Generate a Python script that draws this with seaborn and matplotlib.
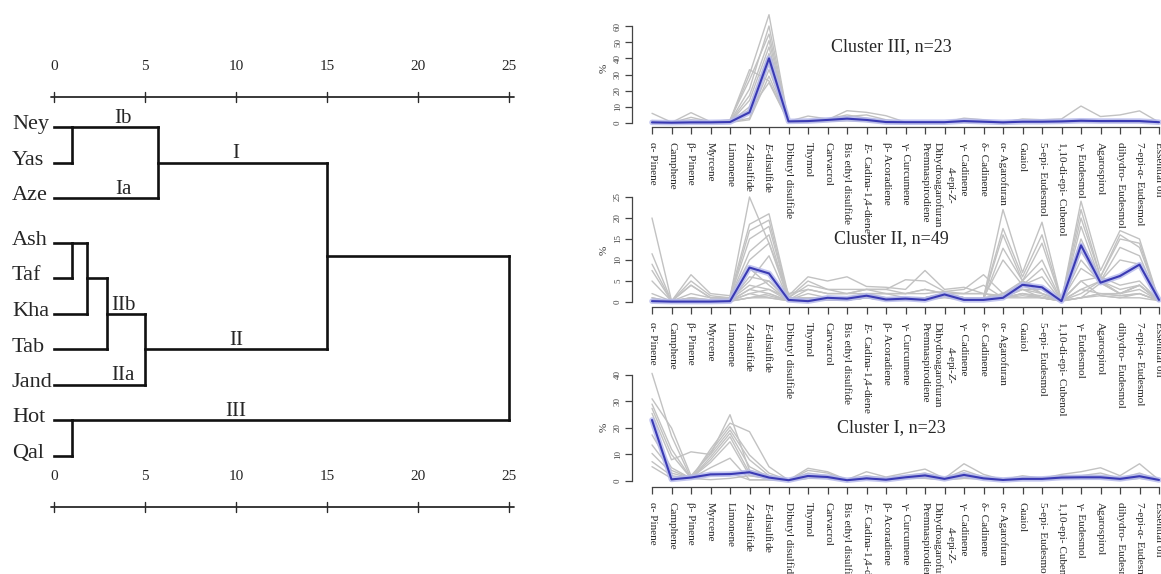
import matplotlib
matplotlib.use("Agg")
import matplotlib.pyplot as plt
import pandas as pd
import seaborn as sns

sns.set_theme(style="white")
plt.rcParams["font.family"] = ["Liberation Serif", "DejaVu Serif"]
plt.rcParams["mathtext.fontset"] = "custom"
plt.rcParams["mathtext.rm"] = "Liberation Serif"
plt.rcParams["mathtext.it"] = "Liberation Serif:italic"

# ---------------- dendrogram data ----------------
leaves = ["Ney", "Yas", "Aze", "Ash", "Taf", "Kha", "Tab", "Jand", "Hot", "Qal"]
# pairs of node ids (leaves 0..9, merged nodes 10..) and their rescaled distances
merge_pairs = [(0, 1), (3, 4), (8, 9), (11, 5), (13, 6), (10, 2), (14, 7), (15, 16), (17, 12)]
merge_heights = [1.0, 1.0, 1.0, 1.8, 2.9, 5.7, 5.0, 15.0, 25.0]
scale_ticks = [0, 5, 10, 15, 20, 25]
branch_names = ["Ib", "Ia", "I", "IIb", "IIa", "II", "III"]
branch_nodes = [10, 2, 15, 14, 7, 16, 12]

# ---------------- compound profiles ----------------
compounds = [
    "α- Pinene", "Camphene", "β- Pinene", "Myrcene", "Limonene",
    r"$\it{Z}$-disulfide", r"$\it{E}$-disulfide", "Dibutyl disulfide", "Thymol", "Carvacrol",
    "Bis ethyl disulfide", r"$\it{E}$- Cadina-1,4-diene", "β- Acoradiene", "γ- Curcumene",
    "Premnaspirodiene", "4-epi-$\\it{Z}$-\nDihydroagarofuran", "γ- Cadinene", "δ- Cadinene",
    "α- Agarofuran", "Guaiol", "5-epi- Eudesmol", "1,10-di-epi- Cubenol", "γ- Eudesmol",
    "Agarospirol", "dihydro- Eudesmol", "7-epi-α- Eudesmol", "Essential oil",
]
compounds_c1 = compounds[:21] + ["1,10-epi- Cubenol"] + compounds[22:]

c3_mean = [0.4, 0.2, 0.4, 0.4, 0.6, 6.6, 40, 1.0, 1.2, 1.9, 2.7, 1.9, 0.6, 0.5, 0.5, 0.5, 1.2, 0.8, 0.4, 0.8, 0.8, 1.0, 1.4, 1.2, 1.2, 1.2, 0.5]
c3_s01 = [6.0, 0.5, 2.0, 0.8, 1.5, 33, 26, 1.0, 4.3, 2.5, 5.0, 3.0, 1.0, 0.5, 0.5, 0.5, 1.5, 1.0, 0.5, 1.0, 1.0, 1.5, 2.0, 1.5, 2.0, 1.5, 0.5]
c3_s02 = [1.5, 0.3, 6.4, 0.8, 1.0, 30, 67, 1.0, 2.0, 2.0, 7.6, 6.6, 4.5, 0.5, 0.5, 0.5, 1.0, 1.0, 0.3, 0.8, 0.8, 1.0, 1.5, 1.2, 1.5, 1.2, 0.5]
c3_s03 = [0.5, 0.2, 3.5, 0.8, 2.0, 26.6, 55, 1.0, 1.5, 2.5, 4.0, 5.0, 2.0, 0.5, 0.5, 0.5, 3.0, 2.0, 0.5, 2.5, 2.0, 2.5, 10.5, 4.0, 5.0, 7.5, 0.5]
c3_s04 = [0.3, 0.2, 0.3, 0.5, 0.8, 21, 60, 1.0, 1.0, 2.0, 3.0, 2.0, 0.5, 0.5, 0.5, 0.5, 1.5, 1.0, 0.5, 1.0, 1.0, 1.0, 1.5, 1.5, 1.5, 1.5, 0.5]
c3_s05 = [0.5, 0.2, 0.5, 0.5, 0.6, 17, 51, 1.0, 1.2, 2.0, 2.5, 1.5, 0.5, 0.5, 0.5, 0.5, 1.0, 0.8, 0.5, 0.8, 1.0, 1.0, 1.0, 1.0, 1.2, 1.0, 0.5]
c3_s06 = [0.3, 0.2, 0.3, 0.5, 0.5, 14, 47, 1.0, 1.0, 1.5, 2.0, 1.5, 0.5, 0.5, 0.5, 0.5, 1.0, 0.8, 0.3, 0.8, 0.8, 1.0, 1.2, 1.0, 1.0, 1.0, 0.5]
c3_s07 = [0.3, 0.2, 0.3, 0.4, 0.5, 10, 43, 0.8, 1.0, 1.5, 3.0, 2.0, 0.4, 0.5, 0.5, 0.5, 1.2, 0.8, 0.3, 0.8, 0.8, 1.2, 1.5, 1.2, 1.2, 1.2, 0.5]
c3_s08 = [0.3, 0.2, 0.3, 0.4, 0.5, 6, 37, 0.8, 0.8, 1.5, 2.0, 1.5, 0.4, 0.4, 0.4, 0.4, 1.0, 0.6, 0.3, 0.6, 0.6, 0.8, 1.0, 1.0, 1.0, 1.0, 0.5]
c3_s09 = [0.2, 0.2, 0.2, 0.4, 0.4, 3, 33, 0.8, 0.8, 1.2, 1.5, 1.2, 0.3, 0.4, 0.4, 0.4, 0.8, 0.6, 0.3, 0.6, 0.6, 0.8, 1.0, 0.8, 0.8, 0.8, 0.4]
c3_s10 = [0.2, 0.2, 0.2, 0.3, 0.4, 2, 29, 0.8, 0.8, 1.2, 2.5, 1.5, 0.3, 0.4, 0.4, 0.4, 0.8, 0.6, 0.3, 0.6, 0.6, 0.8, 1.2, 1.0, 1.0, 1.0, 0.4]
c3_s11 = [0.2, 0.2, 0.2, 0.3, 0.4, 8, 25, 0.8, 0.8, 1.0, 1.5, 1.0, 0.3, 0.3, 0.3, 0.3, 0.6, 0.5, 0.3, 0.5, 0.5, 0.8, 1.0, 0.8, 0.8, 0.8, 0.4]

c2_mean = [0.2, 0.1, 0.1, 0.1, 0.2, 8.2, 6.8, 0.5, 0.2, 1.0, 0.8, 1.5, 0.6, 0.8, 0.5, 1.8, 0.5, 0.5, 1.0, 4.1, 3.5, 0.2, 13.5, 4.6, 6.2, 8.9, 0.5]
c2_s01 = [20, 0.3, 1.0, 0.5, 0.5, 4, 3, 1.0, 1.0, 1.0, 1.0, 2.0, 1.0, 1.0, 1.0, 2.0, 1.0, 1.0, 2.0, 5.0, 3.0, 0.3, 8, 5.0, 6, 9, 0.3]
c2_s02 = [11.5, 0.2, 4.0, 1.0, 1.0, 25, 14, 2.0, 3.0, 2.0, 2.0, 3.0, 2.0, 2.0, 3.0, 2.0, 2.0, 2.0, 1.0, 5.0, 2.0, 0.5, 5, 6.0, 4, 5, 0.3]
c2_s03 = [9, 0.2, 6.5, 2.0, 1.5, 18.5, 21, 1.5, 6.0, 5.0, 6.0, 3.7, 3.5, 3.0, 7.5, 3.0, 3.5, 2.0, 1.5, 4.0, 2.0, 0.3, 3, 5.0, 3, 4, 0.3]
c2_s04 = [7.5, 0.2, 5.0, 1.5, 1.0, 17, 19.5, 1.0, 5.0, 3.0, 3.0, 3.0, 3.0, 5.3, 5.0, 2.5, 3.0, 6.5, 2.0, 3.0, 2.0, 0.3, 2, 5.0, 2, 3, 0.3]
c2_s05 = [5, 0.2, 4.0, 1.0, 1.0, 15, 18, 1.0, 4.0, 3.0, 2.0, 2.0, 2.0, 2.0, 3.0, 2.0, 2.0, 4.0, 1.0, 2.0, 1.0, 0.3, 1, 2.0, 1.5, 2, 0.3]
c2_s06 = [2, 0.2, 2.0, 1.0, 1.0, 12, 16, 0.5, 3.0, 2.0, 2.0, 3.0, 3.0, 2.0, 2.0, 2.5, 2.0, 2.0, 1.0, 3.0, 1.0, 0.3, 1, 4.5, 2, 4, 0.3]
c2_s07 = [1, 0.1, 1.0, 0.5, 1.0, 10, 14, 0.5, 2.0, 1.0, 1.0, 2.0, 2.0, 1.0, 1.0, 2.0, 1.0, 1.0, 1.0, 2.0, 1.0, 0.3, 1, 2.0, 1.5, 2, 0.3]
c2_s08 = [0.5, 0.1, 0.5, 0.5, 0.5, 5, 11, 0.5, 1.0, 1.0, 1.0, 1.5, 1.0, 1.0, 1.0, 2.0, 1.0, 1.0, 1.0, 1.5, 1.0, 0.2, 3, 2.0, 2, 4, 0.3]
c2_s09 = [0.5, 0.1, 0.5, 0.2, 0.3, 3, 5, 0.5, 1.0, 0.5, 0.5, 1.5, 1.0, 1.0, 1.0, 2.0, 1.0, 1.0, 22, 7.0, 19, 0.3, 24, 7.5, 17, 15, 0.3]
c2_s10 = [1, 0.1, 1.0, 0.2, 0.3, 2, 3, 0.3, 1.0, 0.5, 0.5, 1.0, 1.0, 1.0, 1.0, 2.0, 1.0, 1.0, 17.5, 6.0, 16, 0.3, 22, 6.0, 15, 14, 0.3]
c2_s11 = [0.5, 0.1, 0.5, 0.2, 0.2, 1, 2, 0.3, 0.5, 0.5, 0.5, 1.0, 0.5, 1.0, 1.0, 2.0, 1.0, 1.0, 16, 5.0, 14, 0.2, 20, 6.0, 16, 13, 0.3]
c2_s12 = [0.2, 0.1, 0.2, 0.2, 0.2, 1, 1.5, 0.3, 0.5, 0.5, 0.5, 1.0, 0.5, 0.5, 0.5, 1.5, 0.5, 0.5, 12.8, 5.0, 10, 0.2, 18, 5.0, 13, 11, 0.3]
c2_s13 = [0.3, 0.1, 0.3, 0.2, 0.2, 8, 4, 0.3, 0.3, 0.5, 0.5, 1.0, 0.5, 0.5, 0.5, 1.5, 0.5, 1.0, 10, 4.0, 8, 0.2, 15, 5.0, 10, 9, 0.3]
c2_s14 = [0.2, 0.1, 0.2, 0.2, 0.2, 6, 5, 0.3, 0.3, 0.5, 0.5, 1.0, 0.5, 0.5, 0.5, 1.5, 0.5, 0.5, 2, 4.0, 6, 0.2, 12, 5.0, 6, 9, 0.3]
c2_s15 = [0.2, 0.1, 0.2, 0.2, 0.2, 3, 2, 0.3, 0.3, 0.5, 0.5, 1.0, 0.5, 0.5, 0.5, 1.5, 0.5, 0.5, 1, 3.0, 3, 0.2, 10, 4.6, 2, 4, 0.3]
c2_s16 = [0.5, 0.1, 0.5, 0.2, 0.2, 1, 1, 0.3, 0.3, 0.5, 0.5, 1.0, 0.5, 0.5, 0.5, 1.5, 0.5, 0.5, 1, 2.0, 1.5, 0.2, 5, 1.5, 1, 2, 0.3]
c2_s17 = [0.3, 0.1, 0.3, 0.2, 0.2, 2, 1, 0.3, 0.3, 0.5, 0.5, 1.0, 0.5, 0.5, 0.5, 1.0, 0.5, 0.5, 1, 1.0, 1.0, 0.2, 1, 1.5, 1, 1, 0.3]

c1_mean = [23, 0.6, 1.3, 2.5, 2.6, 3.3, 1.3, 0.3, 1.9, 1.5, 0.3, 1.0, 0.5, 1.4, 2.1, 0.8, 2.3, 1.0, 0.4, 0.8, 0.8, 1.3, 1.4, 1.4, 0.8, 1.8, 0.4]
c1_s01 = [40.6, 17, 1, 0.5, 1.0, 2.0, 1.0, 0.3, 4.8, 3.5, 0.5, 3.5, 1.5, 3.0, 4.5, 1.0, 6.5, 2.5, 0.5, 2.0, 1.0, 2.5, 3.5, 5.0, 2.0, 6.5, 0.4]
c1_s02 = [31, 20, 2, 10, 25, 4.0, 2.0, 0.3, 2.0, 1.5, 0.3, 1.0, 0.5, 1.0, 2.0, 1.0, 2.0, 1.0, 0.5, 1.0, 1.0, 1.0, 1.0, 1.0, 1.0, 1.5, 0.4]
c1_s03 = [29, 12, 1, 12, 21.8, 18.6, 5.4, 0.3, 3.0, 2.0, 0.5, 2.0, 1.0, 2.0, 3.0, 1.0, 3.0, 1.0, 0.5, 1.0, 1.0, 2.0, 2.0, 3.0, 1.0, 3.0, 0.4]
c1_s04 = [27.4, 10, 1, 11, 20.5, 9.8, 3.0, 0.3, 4.0, 3.0, 0.3, 1.0, 0.5, 1.5, 2.5, 1.0, 4.0, 1.5, 0.5, 1.0, 1.0, 1.5, 2.0, 2.0, 1.0, 2.0, 0.4]
c1_s05 = [25.5, 8, 11, 10, 19.2, 8.0, 2.0, 0.3, 2.0, 1.5, 0.3, 1.0, 0.5, 1.0, 2.0, 0.8, 2.0, 1.0, 0.3, 1.0, 1.0, 1.0, 1.5, 1.5, 1.0, 2.0, 0.4]
c1_s06 = [17.4, 5, 1, 9, 18, 5.4, 1.5, 0.3, 1.5, 1.0, 0.3, 1.0, 0.5, 1.0, 2.0, 0.8, 2.0, 1.0, 0.3, 0.8, 1.0, 1.0, 1.0, 1.0, 0.8, 1.5, 0.4]
c1_s07 = [13.6, 4, 1, 8, 16.7, 3.0, 1.0, 0.3, 1.5, 1.0, 0.3, 1.0, 0.5, 1.0, 1.5, 0.8, 1.5, 1.0, 0.3, 0.8, 0.8, 1.0, 1.0, 1.0, 0.8, 1.5, 0.4]
c1_s08 = [10.4, 3, 1, 7, 14.8, 2.0, 1.0, 0.3, 1.0, 1.0, 0.3, 1.0, 0.5, 1.0, 1.5, 0.8, 1.5, 0.8, 0.3, 0.8, 0.8, 1.0, 1.0, 1.0, 0.8, 1.5, 0.4]
c1_s09 = [7.3, 2, 1, 5, 8.6, 0.5, 0.5, 0.3, 1.0, 1.0, 0.3, 1.0, 0.5, 1.0, 1.0, 0.5, 1.0, 0.8, 0.3, 0.8, 0.8, 1.0, 1.0, 1.0, 0.5, 1.0, 0.4]
c1_s10 = [5.4, 1, 1, 2, 3.0, 0.4, 0.4, 0.3, 1.0, 1.0, 0.3, 1.0, 0.5, 1.0, 1.0, 0.5, 1.0, 0.8, 0.3, 0.5, 0.5, 1.0, 1.0, 1.0, 0.5, 1.0, 0.4]

c3_samples = [c3_s01, c3_s02, c3_s03, c3_s04, c3_s05, c3_s06, c3_s07, c3_s08, c3_s09, c3_s10, c3_s11]
c2_samples = [c2_s01, c2_s02, c2_s03, c2_s04, c2_s05, c2_s06, c2_s07, c2_s08, c2_s09,
              c2_s10, c2_s11, c2_s12, c2_s13, c2_s14, c2_s15, c2_s16, c2_s17]
c1_samples = [c1_s01, c1_s02, c1_s03, c1_s04, c1_s05, c1_s06, c1_s07, c1_s08, c1_s09, c1_s10]

W, H = 1161, 574
fig = plt.figure(figsize=(W / 100, H / 100), dpi=100)
fig.patch.set_facecolor("white")


def px_axes(left, top, width, height):
    return fig.add_axes([left / W, 1 - (top + height) / H, width / W, height / H])


# ---------------- left: dendrogram ----------------
ax = px_axes(0, 0, 560, 574)
unit = 18.2          # pixels per distance unit
x0 = 54              # pixel column of distance 0
ax.set_xlim(-x0 / unit, (560 - x0) / unit)
ax.set_ylim(574, 0)
ax.axis("off")
ax.patch.set_visible(False)


def leaf_row(i):
    return 127 + 35.5 * i + (9 if i >= 3 else 0)


line_kw = dict(color="#111111", lw=1.9, solid_capstyle="projecting")
n = len(leaves)
node_x = [0.0] * n
node_y = [leaf_row(i) for i in range(n)]
for (a, b), h in zip(merge_pairs, merge_heights):
    for c in (a, b):
        ax.plot([node_x[c], h], [node_y[c], node_y[c]], **line_kw)
    ax.plot([h, h], [node_y[a], node_y[b]], **line_kw)
    if a < n and b < n:
        row = min(node_y[a], node_y[b])
    else:
        row = (node_y[a] + node_y[b]) / 2
    node_x.append(h)
    node_y.append(row)

for i, name in enumerate(leaves):
    ax.text(-42 / unit, leaf_row(i) - 2, name, ha="left", va="center", fontsize=16)

for name, node in zip(branch_names, branch_nodes):
    xpos = 10.0 if name in ("I", "II", "III") else 3.8
    ax.text(xpos, node_y[node] - 4, name, ha="center", va="baseline", fontsize=15)

for ybar in (97, 507):
    ax.plot([-0.17, 25.27], [ybar, ybar], color="#2a2a2a", lw=1.3)
    for t in scale_ticks:
        ax.plot([t, t], [ybar - 5, ybar + 5], color="#2a2a2a", lw=1.0)
        ax.text(t, ybar - 30, str(t), ha="center", va="center", fontsize=11)

# ---------------- right: cluster profiles ----------------
gray = "#c2c2c2"
blue = "#3a3ab4"
halo = "#b4b8ec"
step = 19.5          # pixels between compounds
first = 652          # pixel column of the first compound
left_px = first - 1.04 * step
width_px = (26 + 2.08) * step

panels = [
    ("Cluster III, n=23", c3_samples, c3_mean, compounds, 10, 127, (-2.47, 69.9), [0, 10, 20, 30, 40, 50, 60], 47),
    ("Cluster II, n=49", c2_samples, c2_mean, compounds, 193, 307, (-1.19, 25.95), [0, 5, 10, 15, 20, 25], 15.2),
    ("Cluster I, n=23", c1_samples, c1_mean, compounds_c1, 368, 487, (-2.26, 42.6), [0, 10, 20, 30, 40], 20),
]

for title, samples, mean, labels, top, bottom, ylim, yticks, title_y in panels:
    axp = px_axes(left_px, top, width_px, bottom - top)
    axp.patch.set_visible(False)
    pos = list(range(len(labels)))
    rows = []
    for k, s in enumerate(samples):
        for p, v in zip(pos, s):
            rows.append({"pos": p, "value": v, "sample": k})
    df = pd.DataFrame(rows)
    sns.lineplot(data=df, x="pos", y="value", units="sample", estimator=None,
                 color=gray, lw=1.0, ax=axp)
    sns.lineplot(x=pos, y=mean, color=halo, lw=4.0, alpha=0.8, ax=axp)
    sns.lineplot(x=pos, y=mean, color=blue, lw=1.5, ax=axp)

    axp.set_xlim(-1.04, 27.04)
    axp.set_ylim(*ylim)
    axp.set_xlabel("")
    axp.set_ylabel("%", fontsize=8, color="#333333", labelpad=4)
    for side in ("top", "right"):
        axp.spines[side].set_visible(False)
    for side in ("left", "bottom"):
        axp.spines[side].set_color("#444444")
        axp.spines[side].set_linewidth(0.9)
    axp.spines["bottom"].set_bounds(0, len(labels) - 1)
    axp.spines["left"].set_bounds(yticks[0], yticks[-1])

    axp.set_yticks(yticks)
    axp.set_yticklabels([str(t) for t in yticks], rotation=90, va="center",
                        fontsize=6.5, color="#444444")
    axp.set_xticks(pos)
    axp.set_xticklabels(labels, rotation=270, ha="center", va="top", fontsize=8)
    for t in axp.get_xticklabels():
        t.set_multialignment("center")
    axp.tick_params(axis="both", direction="out", length=5, width=0.9, color="#444444",
                    bottom=True, left=True)
    axp.tick_params(axis="x", pad=6)
    axp.tick_params(axis="y", pad=2)
    axp.text(12.3, title_y, title, ha="center", va="center", fontsize=13)

fig.savefig("out.png", dpi=100, facecolor="white")
